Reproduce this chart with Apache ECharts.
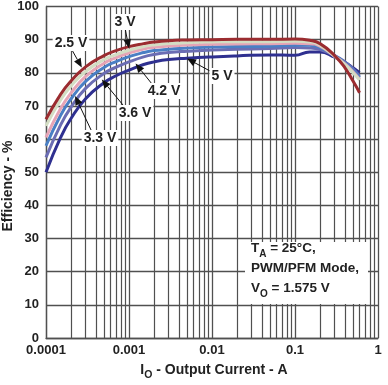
<!DOCTYPE html>
<html><head><meta charset="utf-8">
<script src="https://cdn.jsdelivr.net/npm/echarts@6/dist/echarts.min.js"></script>
<style>html,body{margin:0;padding:0;background:#fff}#c{width:388px;height:385px}</style>
</head><body><div id="c"></div>
<script>
const currents = [0.0001, 0.00015, 0.0002, 0.0003, 0.0005, 0.0007, 0.001, 0.0015, 0.002, 0.003, 0.005, 0.01, 0.02, 0.05, 0.1, 0.15, 0.2, 0.3, 0.4, 0.5, 0.6];
const eff25 = [66, 73.5, 77.5, 81.8, 85.2, 86.7, 87.9, 88.8, 89.3, 89.7, 89.9, 90, 90.1, 90.1, 90.2, 89.8, 88.8, 85.2, 81.5, 77.5, 74];
const eff30 = [64, 71.8, 76, 80.4, 84, 85.5, 86.8, 87.9, 88.4, 88.8, 89.1, 89.3, 89.4, 89.4, 89.5, 89.3, 88.3, 85, 82.5, 80, 77.8];
const eff33 = [60.5, 69.2, 73.9, 78.9, 82.9, 84.6, 86, 87.2, 87.7, 88.1, 88.4, 88.6, 88.7, 88.8, 88.9, 88.8, 88, 85, 82.7, 80.3, 78];
const eff36 = [58, 67.2, 72.1, 77.4, 81.6, 83.4, 84.9, 86.1, 86.7, 87.1, 87.5, 87.8, 87.9, 88, 88.3, 88.3, 87.6, 85.2, 83, 80.8, 78.5];
const eff42 = [54.5, 64.3, 69.6, 75.3, 79.8, 81.7, 83.3, 84.8, 85.5, 86.1, 86.5, 86.9, 87.1, 87.3, 87.6, 87.5, 87, 85.2, 83.3, 81.2, 79];
const eff50 = [50, 60.5, 66.2, 72.2, 77, 79.1, 80.8, 82.5, 83.3, 84, 84.4, 84.8, 85.1, 85.4, 85.3, 86.3, 86.3, 84.7, 83.2, 81.5, 80];
const seriesNames = ['2.5 V', '3 V', '3.3 V', '3.6 V', '4.2 V', '5 V'];
const seriesColors = ['#9b2c30', '#d3ddc3', '#e6a4b6', '#4a7fc4', '#6b6db3', '#2f3090'];
const xTickValues = [0.0001, 0.001, 0.01, 0.1, 1];
const xTickLabels = ['0.0001', '0.001', '0.01', '0.1', '1'];
const yTickLabels = ['0', '10', '20', '30', '40', '50', '60', '70', '80', '90', '100'];
// annotation arrow tips (data coords) for each label
const labelTips = [[0.00027, 81.6], [0.001, 87.4], [0.000224, 73], [0.00047, 78], [0.0012, 82.8], [0.005, 84.3]];

const allSeries = [eff25, eff30, eff33, eff36, eff42, eff50];
const minorLines = [];
for (let d = -4; d < 0; d++) for (let m = 2; m <= 9; m++) minorLines.push(+(m * Math.pow(10, d)).toPrecision(3));

const gridCol = '#505050';
const chart = echarts.init(document.getElementById('c'), null, {renderer: 'canvas'});
const series = [{
  type: 'lines', coordinateSystem: 'cartesian2d', silent: true, z: 1, polyline: false,
  lineStyle: {color: gridCol, width: 1.2, opacity: 1},
  data: minorLines.map(v => ({coords: [[v, 0], [v, 100]]})),
  animation: false
}];
allSeries.forEach((arr, i) => {
  series.push({
    name: seriesNames[i], type: 'line', z: 3 + (6 - i),
    data: currents.map((c, j) => [c, arr[j]]),
    showSymbol: false, smooth: 0.5,
    lineStyle: {color: seriesColors[i], width: 3},
    animation: false
  });
});
chart.setOption({
  animation: false,
  grid: {left: 46, right: 10, top: 6, bottom: 47},
  xAxis: {
    type: 'log', logBase: 10, min: 0.0001, max: 1,
    axisLine: {show: true, lineStyle: {color: gridCol, width: 1.3}},
    axisTick: {show: false},
    splitLine: {show: true, lineStyle: {color: gridCol, width: 1.3}},
    axisLabel: {
      color: '#222', fontFamily: 'Liberation Sans, Arial', fontWeight: 'bold', fontSize: 13, margin: 6,
      formatter: v => { const k = Math.round(Math.log10(v)) + 4; return xTickLabels[k] || ''; }
    }
  },
  yAxis: {
    type: 'value', min: 0, max: 100, interval: 10,
    axisLine: {show: true, lineStyle: {color: gridCol, width: 1.3}},
    axisTick: {show: false},
    splitLine: {show: true, lineStyle: {color: gridCol, width: 1.3}},
    axisLabel: {
      color: '#222', fontFamily: 'Liberation Sans, Arial', fontWeight: 'bold', fontSize: 13, margin: 7,
      formatter: v => yTickLabels[Math.round(v / 10)]
    }
  },
  series: series
});

const font = 'Liberation Sans, Arial';
const graphics = [];
graphics.push({
  type: 'text', x: 8, y: 186, rotation: Math.PI / 2, z: 100,
  style: {text: 'Efficiency - %', font: 'bold 14px ' + font, fill: '#222', textAlign: 'center', textVerticalAlign: 'middle'}
});
graphics.push({
  type: 'text', x: 214, y: 371, z: 100,
  style: {
    text: '{m|I}{s|O}{m| - Output Current - A}', textAlign: 'center', textVerticalAlign: 'middle',
    rich: {
      m: {font: 'bold 14px ' + font, fill: '#222', lineHeight: 16, verticalAlign: 'top'},
      s: {font: 'bold 10.5px ' + font, fill: '#222', lineHeight: 16, padding: [7, 0, 0, 0], verticalAlign: 'top'}
    }
  }
});
graphics.push({type: 'rect', shape: {x: 245, y: 242, width: 123, height: 62}, style: {fill: '#fff'}, z: 90});
graphics.push({
  type: 'text', x: 251, y: 241, z: 100,
  style: {
    text: '{m|T}{s|A}{m| = 25°C,}\n{m|PWM/PFM Mode,}\n{m|V}{s|O}{m| = 1.575 V}',
    rich: {
      m: {font: 'bold 13.5px ' + font, fill: '#222', lineHeight: 20, verticalAlign: 'top'},
      s: {font: 'bold 10px ' + font, fill: '#222', lineHeight: 20, padding: [8, 0, 0, 0], verticalAlign: 'top'}
    }
  }
});
const labelCenters = [[71, 43], [125, 22], [100, 138], [135, 113], [164, 91], [222, 76]];
const arrowStarts = [[72, 50], [125, 28], [92, 132], [123, 105], [152, 84], [210, 71]];
seriesNames.forEach((nm, i) => {
  const tip = chart.convertToPixel({gridIndex: 0}, labelTips[i]);
  const s = arrowStarts[i];
  const dx = tip[0] - s[0], dy = tip[1] - s[1];
  const L = Math.sqrt(dx * dx + dy * dy), ux = dx / L, uy = dy / L;
  const hl = 9, hw = 3.8;
  const bx = tip[0] - ux * hl, by = tip[1] - uy * hl;
  graphics.push({type: 'line', z: 95, shape: {x1: s[0], y1: s[1], x2: bx, y2: by}, style: {stroke: '#111', lineWidth: 1}});
  graphics.push({type: 'polygon', z: 95, shape: {points: [[tip[0], tip[1]], [bx - uy * hw, by + ux * hw], [bx + uy * hw, by - ux * hw]]}, style: {fill: '#111'}});
  graphics.push({
    type: 'text', x: labelCenters[i][0], y: labelCenters[i][1], z: 100,
    style: {text: nm, font: 'bold 14px ' + font, fill: '#222', textAlign: 'center', textVerticalAlign: 'middle',
      backgroundColor: '#fff', padding: [1, 2]}
  });
});
chart.setOption({graphic: graphics});
</script></body></html>
